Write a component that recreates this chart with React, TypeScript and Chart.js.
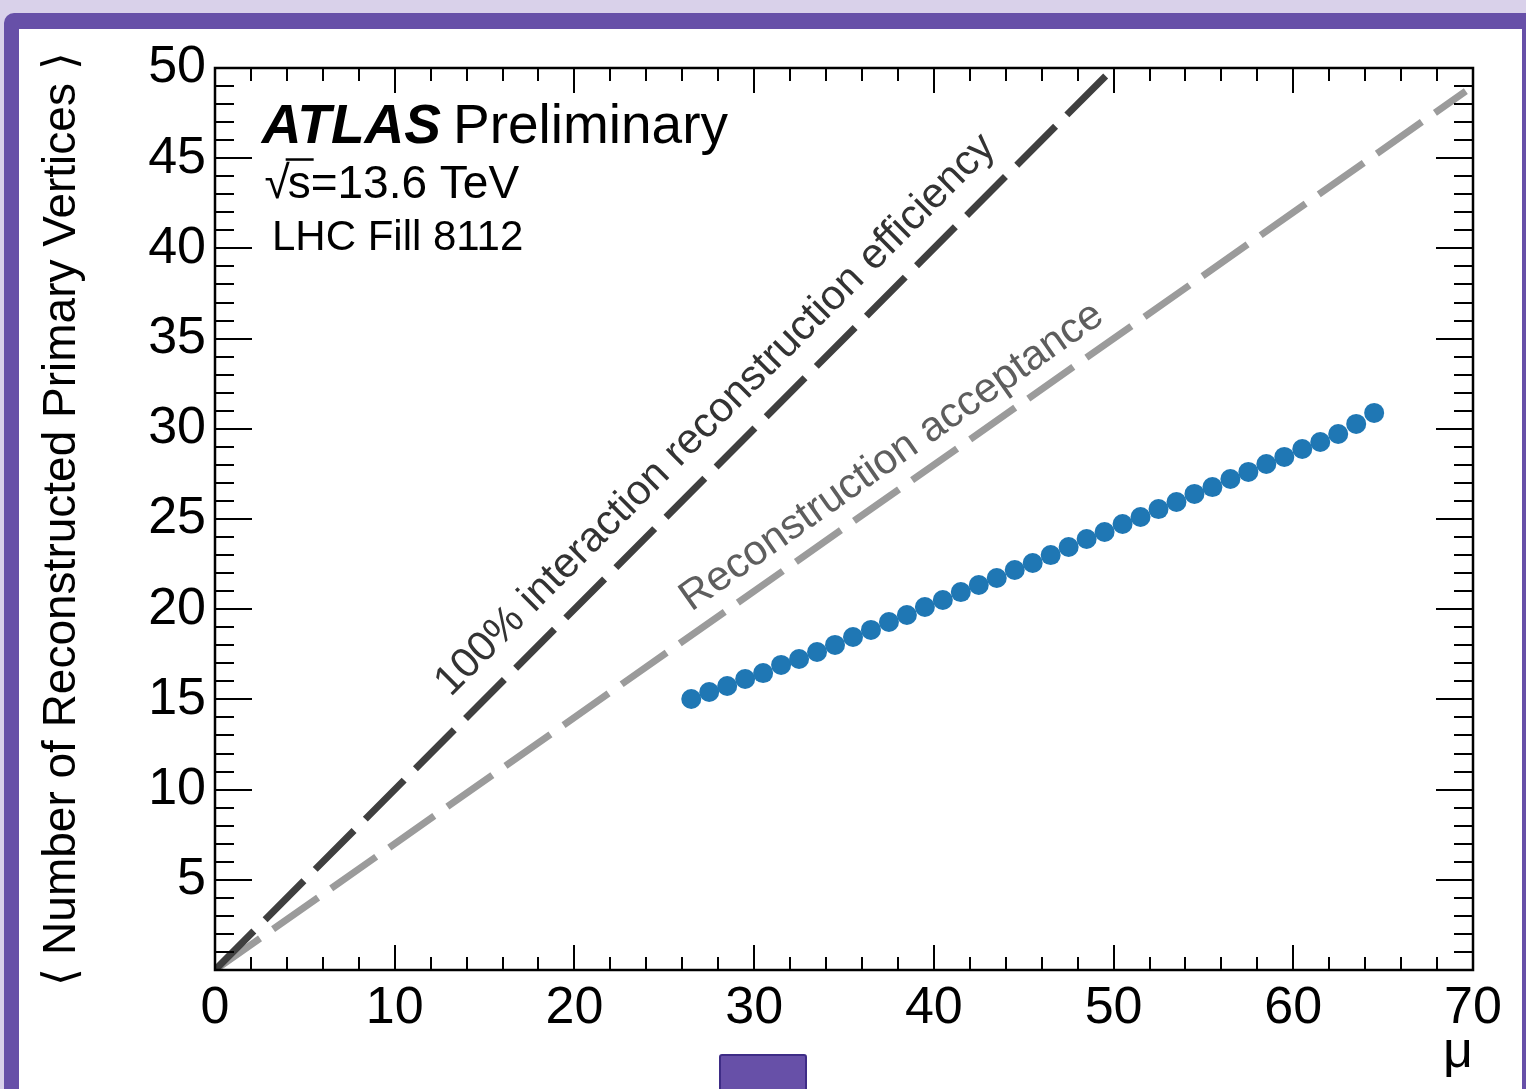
import { useEffect, useRef } from 'react';
import { Chart, registerables } from 'chart.js';

Chart.register(...registerables);

// ---- data ----
const muValues = [
  26.5, 27.5, 28.5, 29.5, 30.5, 31.5, 32.5, 33.5, 34.5, 35.5,
  36.5, 37.5, 38.5, 39.5, 40.5, 41.5, 42.5, 43.5, 44.5, 45.5,
  46.5, 47.5, 48.5, 49.5, 50.5, 51.5, 52.5, 53.5, 54.5, 55.5,
  56.5, 57.5, 58.5, 59.5, 60.5, 61.5, 62.5, 63.5, 64.5,
];
const vertexValues = [
  15.02, 15.41, 15.74, 16.13, 16.46, 16.91, 17.24, 17.63, 18.02, 18.46,
  18.85, 19.29, 19.68, 20.12, 20.51, 20.95, 21.34, 21.73, 22.17, 22.56,
  23.0, 23.45, 23.89, 24.28, 24.72, 25.11, 25.55, 25.94, 26.39, 26.77,
  27.22, 27.61, 28.05, 28.44, 28.88, 29.27, 29.71, 30.27, 30.88,
];
const efficiencyMu = [0, 50];
const efficiencyVertices = [0, 50];
const acceptanceMu = [0, 69.6];
const acceptanceVertices = [0, 48.72];

const xTickValues = [0, 10, 20, 30, 40, 50, 60, 70];
const yTickValues = [5, 10, 15, 20, 25, 30, 35, 40, 45, 50];
const xMinorStep = 2;
const yMinorStep = 1;

const yTitle = '\u27E8 Number of Reconstructed Primary Vertices \u27E9';
const xTitle = '\u03BC';
const efficiencyLabel = '100% interaction reconstruction efficiency';
const acceptanceLabel = 'Reconstruction acceptance';

const FONT = '"Liberation Sans", Arial, Helvetica, sans-serif';

const rootStylePlugin = {
  id: 'rootStyle',
  afterDatasetsDraw(chart: any) {
    const { ctx, chartArea: a } = chart;
    const x = chart.scales.x;
    const y = chart.scales.y;
    ctx.save();
    ctx.strokeStyle = '#000';
    ctx.lineWidth = 2;
    ctx.beginPath();
    for (let v = x.min; v <= x.max + 1e-9; v += xMinorStep) {
      const px = Math.round(x.getPixelForValue(v));
      const major = xTickValues.includes(Math.round(v));
      const len = major ? 25 : 13;
      ctx.moveTo(px, a.bottom);
      ctx.lineTo(px, a.bottom - len);
      ctx.moveTo(px, a.top);
      ctx.lineTo(px, a.top + len);
    }
    for (let v = y.min; v <= y.max + 1e-9; v += yMinorStep) {
      const py = Math.round(y.getPixelForValue(v));
      const major = Math.round(v) % 5 === 0;
      const len = major ? 37 : 19;
      ctx.moveTo(a.left, py);
      ctx.lineTo(a.left + len, py);
      ctx.moveTo(a.right, py);
      ctx.lineTo(a.right - len, py);
    }
    ctx.stroke();
    ctx.lineWidth = 2.5;
    ctx.strokeRect(a.left, a.top, a.right - a.left, a.bottom - a.top);
    ctx.restore();
  },
  afterDraw(chart: any) {
    const { ctx } = chart;
    const x = chart.scales.x;
    const y = chart.scales.y;
    ctx.save();
    ctx.fillStyle = '#000';
    ctx.strokeStyle = '#000';
    ctx.textBaseline = 'alphabetic';
    ctx.textAlign = 'left';

    // ATLAS Preliminary
    const ax = x.getPixelForValue(2.6);
    const ay = y.getPixelForValue(45.84);
    ctx.font = `italic bold 55px ${FONT}`;
    ctx.fillText('ATLAS', ax, ay);
    const aw = ctx.measureText('ATLAS').width;
    ctx.font = `55px ${FONT}`;
    ctx.fillText('Preliminary', ax + aw + 12, ay);

    // sqrt(s)=13.6 TeV
    const sx = x.getPixelForValue(2.75);
    const sy = y.getPixelForValue(42.82);
    ctx.font = `46px ${FONT}`;
    ctx.fillText('\u221A', sx, sy);
    const rw = ctx.measureText('\u221A').width;
    const sw = ctx.measureText('s').width;
    ctx.fillText('s=13.6 TeV', sx + rw - 2, sy);
    ctx.lineWidth = 2.5;
    ctx.beginPath();
    ctx.moveTo(sx + rw - 4, sy - 38);
    ctx.lineTo(sx + rw + sw + 1, sy - 38);
    ctx.stroke();

    // LHC Fill
    ctx.font = `42px ${FONT}`;
    ctx.fillText('LHC Fill 8112', x.getPixelForValue(3.17), y.getPixelForValue(39.9));

    // rotated labels along lines
    const drawAlong = (text: string, color: string, mu: number, v: number, x0: number, y0: number, x1: number, y1: number) => {
      const ang = Math.atan2(
        y.getPixelForValue(y1) - y.getPixelForValue(y0),
        x.getPixelForValue(x1) - x.getPixelForValue(x0)
      );
      ctx.save();
      ctx.translate(x.getPixelForValue(mu), y.getPixelForValue(v));
      ctx.rotate(ang);
      ctx.font = `42px ${FONT}`;
      ctx.fillStyle = color;
      ctx.fillText(text, 0, 0);
      ctx.restore();
    };
    drawAlong(efficiencyLabel, '#333333', 13.1, 15.1,
      efficiencyMu[0], efficiencyVertices[0], efficiencyMu[1], efficiencyVertices[1]);
    drawAlong(acceptanceLabel, '#5e5e5e', 26.5, 19.85,
      acceptanceMu[0], acceptanceVertices[0], acceptanceMu[1], acceptanceVertices[1]);
    ctx.restore();
  },
};

export default function App() {
  const canvasRef = useRef<HTMLCanvasElement | null>(null);

  useEffect(() => {
    if (!canvasRef.current) return;
    const chart = new Chart(canvasRef.current, {
      type: 'scatter',
      data: {
        datasets: [
          {
            label: 'efficiency',
            data: efficiencyMu.map((m, i) => ({ x: m, y: efficiencyVertices[i] })),
            showLine: true,
            borderColor: '#3f3f3f',
            borderWidth: 7,
            borderDash: [55, 16],
            borderCapStyle: 'butt',
            pointRadius: 0,
            fill: false,
          },
          {
            label: 'acceptance',
            data: acceptanceMu.map((m, i) => ({ x: m, y: acceptanceVertices[i] })),
            showLine: true,
            borderColor: '#9b9b9b',
            borderWidth: 7,
            borderDash: [55, 16],
            borderCapStyle: 'butt',
            pointRadius: 0,
            fill: false,
          },
          {
            label: 'data',
            data: muValues.map((m, i) => ({ x: m, y: vertexValues[i] })),
            showLine: false,
            backgroundColor: '#1f77b4',
            borderWidth: 0,
            pointRadius: 10,
            pointHoverRadius: 10,
          },
        ],
      },
      options: {
        responsive: false,
        animation: false,
        devicePixelRatio: 1,
        layout: { padding: { left: 0, top: 68, right: 53, bottom: 0 } },
        plugins: { legend: { display: false }, tooltip: { enabled: false } },
        scales: {
          x: {
            type: 'linear',
            min: 0,
            max: 70,
            afterBuildTicks: (s: any) => {
              s.ticks = xTickValues.map((v) => ({ value: v }));
            },
            afterFit: (s: any) => {
              s.height = 119;
            },
            grid: { display: false, drawTicks: false },
            border: { display: false },
            ticks: {
              font: { family: FONT, size: 52 },
              color: '#000',
              padding: 7,
              maxRotation: 0,
              minRotation: 0,
              autoSkip: false,
            },
            title: {
              display: true,
              text: xTitle,
              align: 'end',
              color: '#000',
              font: { family: FONT, size: 52, lineHeight: 1 },
              padding: { top: 0, bottom: 10 },
            },
          },
          y: {
            type: 'linear',
            min: 0,
            max: 50,
            afterBuildTicks: (s: any) => {
              s.ticks = yTickValues.map((v) => ({ value: v }));
            },
            afterFit: (s: any) => {
              s.width = 215;
            },
            grid: { display: false, drawTicks: false },
            border: { display: false },
            ticks: {
              font: { family: FONT, size: 52 },
              color: '#000',
              padding: 9,
              autoSkip: false,
            },
            title: {
              display: true,
              text: yTitle,
              color: '#000',
              font: { family: FONT, size: 46, lineHeight: 1 },
              padding: { top: 39, bottom: 0 },
            },
          },
        },
      },
      plugins: [rootStylePlugin],
    } as any);
    return () => chart.destroy();
  }, []);

  return (
    <div
      style={{
        position: 'absolute',
        left: 0,
        top: 0,
        width: 1526,
        height: 1089,
        overflow: 'hidden',
        background: '#d9d1ea',
      }}
    >
      <div
        style={{
          position: 'absolute',
          left: 4,
          top: 13,
          width: 1540,
          height: 1100,
          background: '#6750a8',
          borderTopLeftRadius: 10,
        }}
      />
      <div
        style={{
          position: 'absolute',
          left: 19,
          top: 29,
          width: 1503,
          height: 1080,
          background: '#ffffff',
        }}
      />
      <div
        style={{
          position: 'absolute',
          left: 719,
          top: 1054,
          width: 84,
          height: 40,
          background: '#6750a8',
          border: '2px solid #3e2c86',
          borderRadius: 3,
        }}
      />
      <canvas
        ref={canvasRef}
        width={1526}
        height={1089}
        style={{ position: 'absolute', left: 0, top: 0, width: 1526, height: 1089 }}
      />
    </div>
  );
}
